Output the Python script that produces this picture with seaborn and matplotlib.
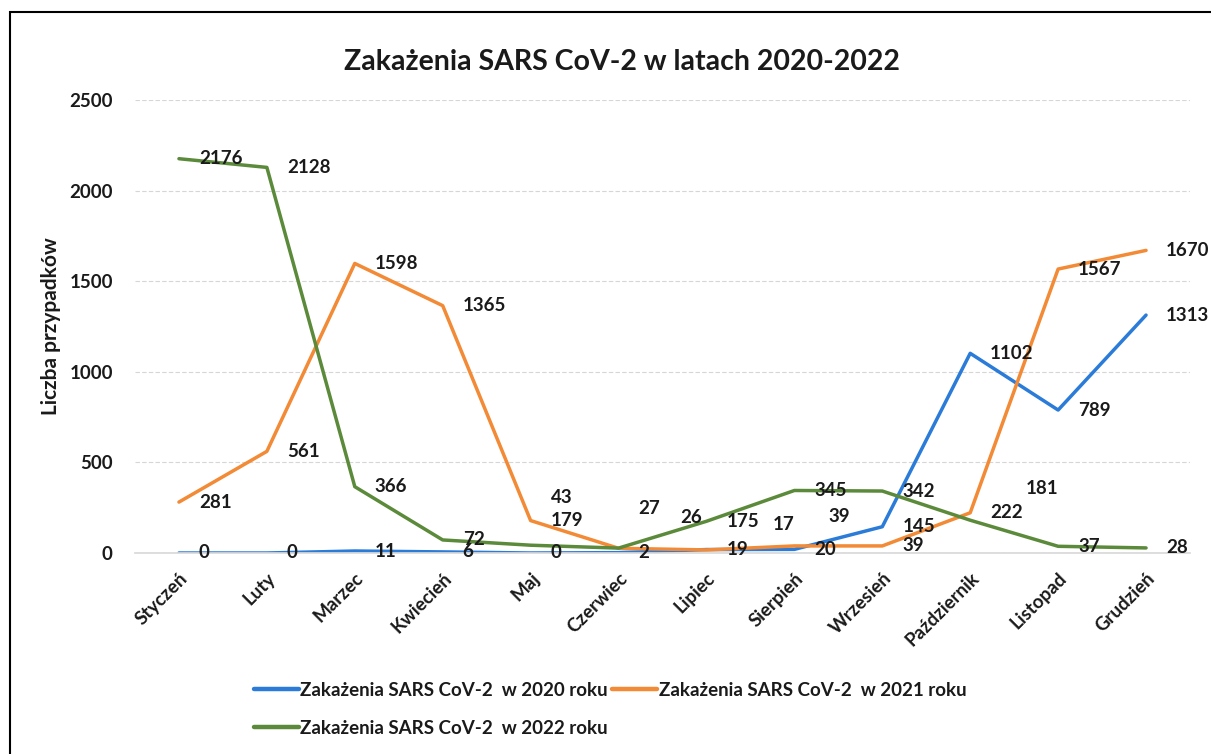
import matplotlib
matplotlib.use("Agg")
import matplotlib.pyplot as plt
import seaborn as sns
import pandas as pd
from matplotlib.patches import Rectangle
from matplotlib.lines import Line2D

months = ["Styczeń", "Luty", "Marzec", "Kwiecień", "Maj", "Czerwiec", "Lipiec",
          "Sierpień", "Wrzesień", "Październik", "Listopad", "Grudzień"]
cases_2020 = [0, 0, 11, 6, 0, 2, 19, 20, 145, 1102, 789, 1313]
cases_2021 = [281, 561, 1598, 1365, 179, 26, 17, 39, 39, 222, 1567, 1670]
cases_2022 = [2176, 2128, 366, 72, 43, 27, 175, 345, 342, 181, 37, 28]
series_names = ["Zakażenia SARS CoV-2  w 2020 roku",
                "Zakażenia SARS CoV-2  w 2021 roku",
                "Zakażenia SARS CoV-2  w 2022 roku"]
yticks = [0, 500, 1000, 1500, 2000, 2500]

colors = ["#2B7BD8", "#F28A36", "#5B8A3A"]

sns.set_theme(style="white")
plt.rcParams["font.family"] = ["Lato", "DejaVu Sans"]
plt.rcParams["font.weight"] = "bold"

rows = []
for name, vals in zip(series_names, [cases_2020, cases_2021, cases_2022]):
    for i, (m, v) in enumerate(zip(months, vals)):
        rows.append({"idx": i, "month": m, "value": v, "series": name})
df = pd.DataFrame(rows)

fig = plt.figure(figsize=(12.11, 7.54), dpi=100)
ax = fig.add_axes([135 / 1211, 1 - 553 / 754, (1190 - 135) / 1211, (553 - 100) / 754])

sns.lineplot(data=df, x="idx", y="value", hue="series", palette=colors,
             linewidth=2.5, ax=ax, legend=False, sort=False)

ax.set_xlim(-0.5, 11.5)
ax.set_ylim(0, 2500)
ax.set_yticks(yticks)
ax.set_yticklabels([str(t) for t in yticks], fontsize=13.5, fontweight="bold",
                   color="#1a1a1a")
ax.set_xticks(range(len(months)))
ax.set_xticklabels(months, rotation=45, ha="right", va="top",
                   rotation_mode="anchor", fontsize=13.5, fontweight="bold",
                   color="#1a1a1a")
ax.tick_params(axis="y", length=0, pad=16)
ax.tick_params(axis="x", length=0, pad=12)
ax.grid(axis="y", color="#d6d6d6", linewidth=0.8, linestyle=(0, (4, 2)))
for s in ["left", "right", "top"]:
    ax.spines[s].set_visible(False)
ax.spines["bottom"].set_color("#d9d9d9")
ax.set_xlabel("")
ax.set_ylabel("Liczba przypadków", fontsize=15, fontweight="bold", labelpad=6,
              color="#1a1a1a")

# label nudges in pixels (dx right, dy up) relative to default placement
nudges = {
    (2, 4): (0, 48), (2, 5): (0, 40), (2, 9): (36, 32),
    (1, 5): (42, 31), (1, 6): (46, 25), (1, 7): (14, 29),
}
for si, vals in enumerate([cases_2020, cases_2021, cases_2022]):
    for i, v in enumerate(vals):
        dx, dy = nudges.get((si, i), (0, 0))
        ax.annotate(str(v), (i, v), xytext=((20 + dx) / 1.389, dy / 1.389),
                    textcoords="offset points", ha="left", va="center",
                    fontsize=13.5, fontweight="bold", color="#1a1a1a",
                    annotation_clip=False)

fig.text(622 / 1211, 1 - 62 / 754, "Zakażenia SARS CoV-2 w latach 2020-2022",
         ha="center", va="center", fontsize=20.5, fontweight="bold", color="#1a1a1a")

handles = [Line2D([], [], color=c, linewidth=3.2) for c in colors]
order = [0, 2, 1]
leg = fig.legend([handles[k] for k in order], [series_names[k] for k in order],
                 ncol=2, loc="upper left", bbox_to_anchor=(246 / 1211, 1 - 674 / 754),
                 frameon=False, fontsize=13.5, handlelength=2.4, handletextpad=0.1,
                 columnspacing=0.2, labelspacing=1.12, borderaxespad=0)
for t in leg.get_texts():
    t.set_fontweight("bold")
    t.set_color("#1a1a1a")

fig.patches.append(Rectangle((10 / 1211, -0.05), 1.2, 1 - 12 / 754 + 0.05,
                             transform=fig.transFigure, fill=False,
                             edgecolor="black", linewidth=1.5))

fig.savefig("out.png", dpi=100)
